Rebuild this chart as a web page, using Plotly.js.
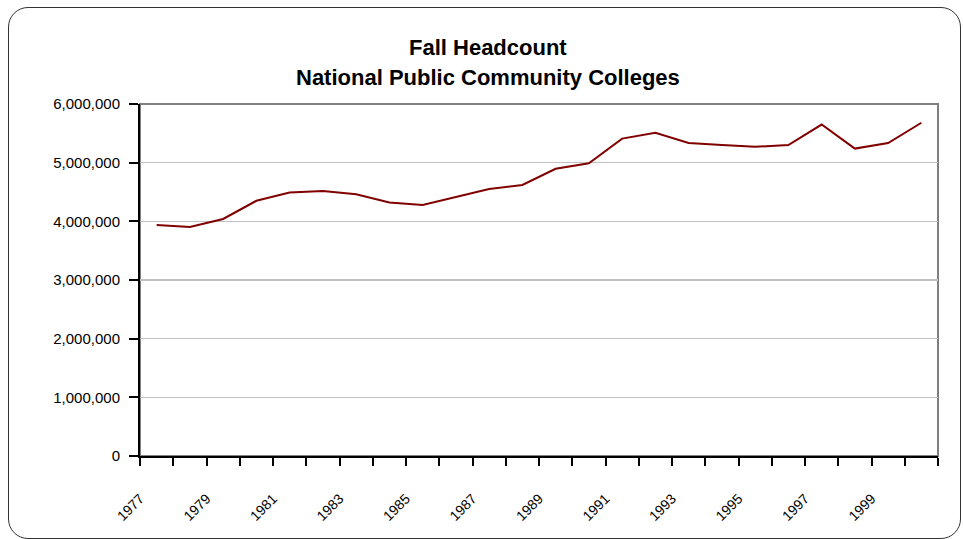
<!DOCTYPE html>
<html>
<head>
<meta charset="utf-8">
<script src="https://cdn.plot.ly/plotly-3.0.1.min.js"></script>
<style>
  html, body { margin: 0; padding: 0; background: #fff; }
  #wrap { position: relative; width: 963px; height: 539px; overflow: hidden; }
  #chart { position: absolute; left: 0; top: 0; width: 963px; height: 539px; }
  #frame { position: absolute; left: 8px; top: 7px; width: 951px; height: 530px;
           border: 1.5px solid #333; border-radius: 20px; pointer-events: none; }
</style>
</head>
<body>
<div id="wrap">
  <div id="chart"></div>
  <div id="frame"></div>
</div>
<script>
const years = [1977,1978,1979,1980,1981,1982,1983,1984,1985,1986,1987,1988,
               1989,1990,1991,1992,1993,1994,1995,1996,1997,1998,1999,2000];
const headcount = [3937000,3903000,4040000,4350000,4490000,4517000,4460000,4320000,
                   4280000,4420000,4550000,4620000,4895000,4990000,5410000,5510000,
                   5335000,5300000,5270000,5300000,5650000,5240000,5335000,5680000];
const tickLabels = ["1977","1979","1981","1983","1985","1987","1989","1991","1993","1995","1997","1999"];

// category boundaries (ticks sit between categories, labels at the left boundary of every other year)
const boundaries = [];
const boundaryText = [];
for (let i = 0; i <= years.length; i++) {
  boundaries.push(years[0] - 0.5 + i);
  boundaryText.push(i % 2 === 0 && i / 2 < tickLabels.length ? tickLabels[i / 2] : "");
}

const trace = {
  x: years, y: headcount, type: 'scatter', mode: 'lines',
  line: { color: '#800000', width: 2 },
  hoverinfo: 'x+y'
};

const layout = {
  width: 963, height: 539,
  margin: { l: 140, r: 25, t: 104, b: 83 },
  paper_bgcolor: '#ffffff', plot_bgcolor: '#ffffff',
  showlegend: false,
  font: { family: 'Liberation Sans, Arial, sans-serif', color: '#000' },
  xaxis: {
    type: 'linear',
    range: [years[0] - 0.5, years[years.length - 1] + 0.5],
    tickmode: 'array', tickvals: boundaries, ticktext: boundaryText,
    tickangle: -45,
    ticks: 'outside', ticklen: 8, tickwidth: 2, tickcolor: '#000',
    ticklabelstandoff: 19,
    showline: true, linecolor: '#000', linewidth: 2,
    showgrid: false, zeroline: false,
    tickfont: { family: 'Liberation Sans, Arial, sans-serif', size: 14, color: '#000' }
  },
  yaxis: {
    range: [0, 6000000],
    tickvals: [0,1000000,2000000,3000000,4000000,5000000,6000000],
    ticktext: ['0','1,000,000','2,000,000','3,000,000','4,000,000','5,000,000','6,000,000'],
    ticks: 'outside', ticklen: 9, tickwidth: 2, tickcolor: '#000',
    ticklabelstandoff: 6,
    showline: true, linecolor: '#000', linewidth: 2,
    showgrid: true, gridcolor: '#c0c0c0', gridwidth: 1.5,
    zeroline: false,
    tickfont: { family: 'Liberation Sans, Arial, sans-serif', size: 15, color: '#000' }
  },
  shapes: [{
    type: 'rect', xref: 'paper', yref: 'paper', x0: 0, x1: 1, y0: 0, y1: 1,
    line: { color: '#808080', width: 2 }, layer: 'below'
  }],
  annotations: [
    { text: '<b>Fall Headcount</b>', xref: 'paper', yref: 'paper',
      x: 0.4355, y: 1.16, xanchor: 'center', yanchor: 'middle', showarrow: false,
      font: { family: 'Liberation Sans, Arial, sans-serif', size: 22, color: '#000' } },
    { text: '<b>National Public Community Colleges</b>', xref: 'paper', yref: 'paper',
      x: 0.4355, y: 1.074, xanchor: 'center', yanchor: 'middle', showarrow: false,
      font: { family: 'Liberation Sans, Arial, sans-serif', size: 22, color: '#000' } }
  ]
};

Plotly.newPlot('chart', [trace], layout, { displayModeBar: false, staticPlot: true });
</script>
</body>
</html>
